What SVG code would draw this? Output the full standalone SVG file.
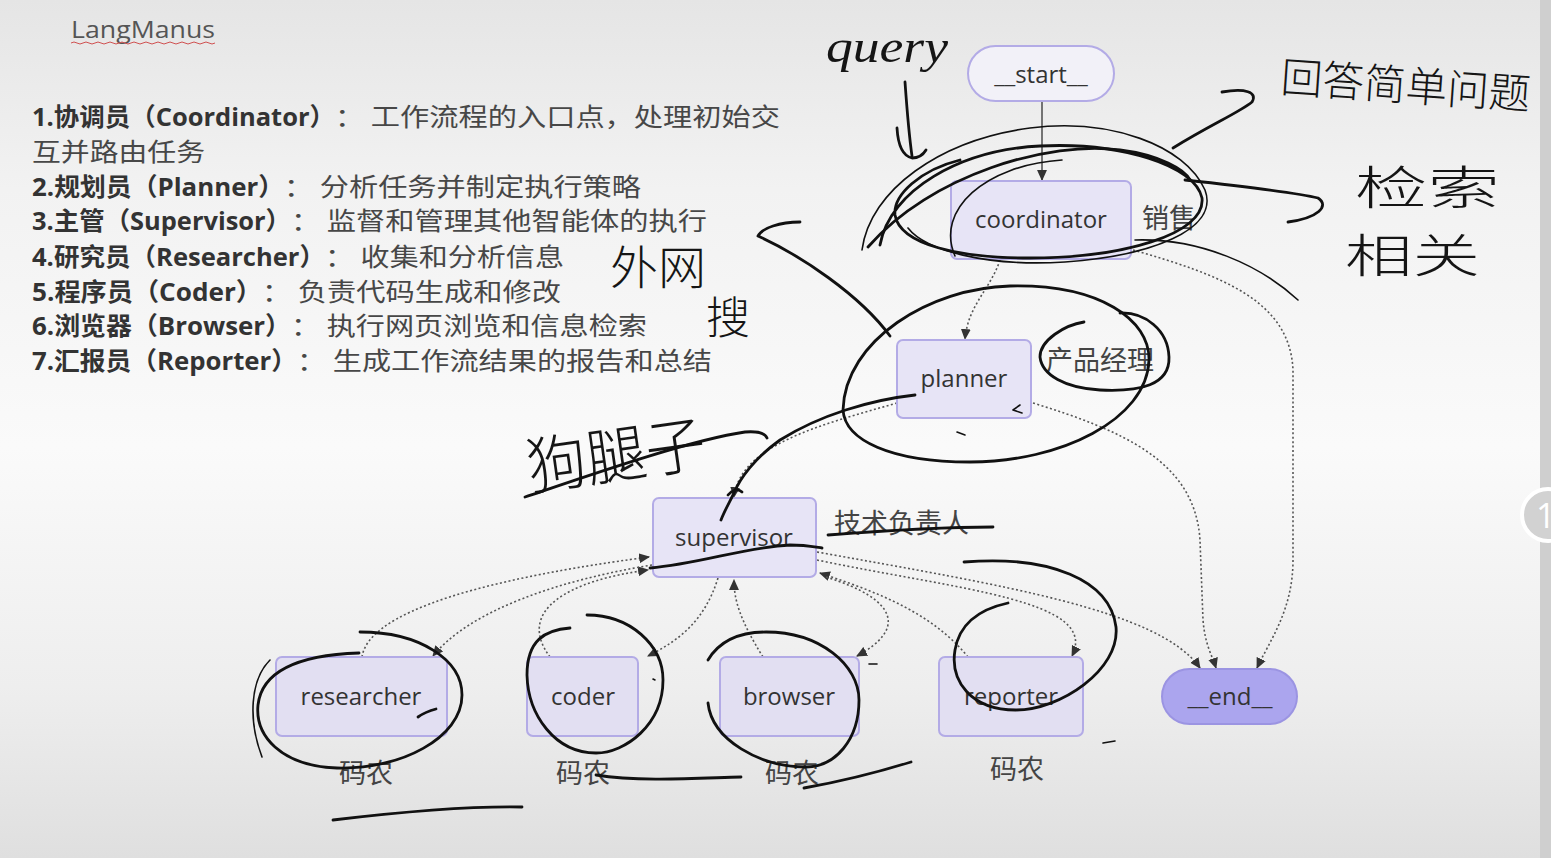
<svg xmlns="http://www.w3.org/2000/svg" width="1551" height="858" viewBox="0 0 1551 858">
<defs>
<linearGradient id="bg" x1="0" y1="0" x2="0" y2="1">
<stop offset="0" stop-color="#e5e5e5"/>
<stop offset="0.22" stop-color="#f2f2f2"/>
<stop offset="0.52" stop-color="#fafafa"/>
<stop offset="0.8" stop-color="#eeeeee"/>
<stop offset="1" stop-color="#dfdfdf"/>
</linearGradient>
<marker id="ah" viewBox="0 0 10 10" refX="9" refY="5" markerWidth="11" markerHeight="11" markerUnits="userSpaceOnUse" orient="auto">
<path d="M0,0.5 L10,5 L0,9.5 z" fill="#333"/>
</marker>
<style>
.list{font-family:"Open Sans","Noto Sans CJK SC",sans-serif;font-size:25px;}
.b{font-weight:700;fill:#333;}
.r{font-weight:400;fill:#474747;font-family:"Noto Sans CJK SC",sans-serif;}
.node{stroke:#b3abe6;stroke-width:2;fill:#e7e4f6;}
.low{fill:#e2dff2;}
.lbl{font-family:"Open Sans","Noto Sans CJK SC",sans-serif;font-size:24px;fill:#333;text-anchor:middle;}
.cn{font-family:"Noto Sans CJK SC",sans-serif;font-size:27px;fill:#444;}
.e{fill:none;stroke:#555;stroke-width:1.6;stroke-dasharray:2 2.4;marker-end:url(#ah);}
.pen{fill:none;stroke:#111;stroke-width:2.8;stroke-linecap:round;stroke-linejoin:round;}
.thin{stroke-width:1.6;}
.hw{font-family:"Noto Sans CJK SC",sans-serif;fill:#151515;font-weight:300;}
</style>
</defs>
<rect width="1551" height="858" fill="url(#bg)"/>
<rect x="1540" y="0" width="11" height="858" fill="#cfcfcf"/>
<circle cx="1548" cy="515" r="26" fill="#d2d2d2" stroke="#ffffff" stroke-width="4"/>
<text x="1536" y="528" font-family="Open Sans, sans-serif" font-size="34" fill="#ffffff">1</text>

<g id="title">
<text x="71" y="38" font-family="Open Sans, sans-serif" font-size="23" fill="#555" textLength="144" lengthAdjust="spacingAndGlyphs">LangManus</text>
<path d="M71,43 q3,-2 6,0 t6,0 t6,0 t6,0 t6,0 t6,0 t6,0 t6,0 t6,0 t6,0 t6,0 t6,0 t6,0 t6,0 t6,0 t6,0 t6,0 t6,0 t6,0 t6,0 t6,0 t6,0 t6,0 t6,0" fill="none" stroke="#d05050" stroke-width="1"/>
</g>

<g id="list" class="list">
<text x="32" y="126" class="b" textLength="303" lengthAdjust="spacingAndGlyphs">1.协调员（Coordinator）</text>
<text x="335" y="126" class="r" textLength="445" lengthAdjust="spacingAndGlyphs">： 工作流程的入口点，处理初始交</text>
<text x="32" y="161" class="r" textLength="173" lengthAdjust="spacingAndGlyphs">互并路由任务</text>
<text x="32" y="196" class="b" textLength="252" lengthAdjust="spacingAndGlyphs">2.规划员（Planner）</text>
<text x="284" y="196" class="r" textLength="357" lengthAdjust="spacingAndGlyphs">： 分析任务并制定执行策略</text>
<text x="32" y="230" class="b" textLength="259" lengthAdjust="spacingAndGlyphs">3.主管（Supervisor）</text>
<text x="291" y="230" class="r" textLength="416" lengthAdjust="spacingAndGlyphs">： 监督和管理其他智能体的执行</text>
<text x="32" y="266" class="b" textLength="293" lengthAdjust="spacingAndGlyphs">4.研究员（Researcher）</text>
<text x="325" y="266" class="r" textLength="239" lengthAdjust="spacingAndGlyphs">： 收集和分析信息</text>
<text x="32" y="301" class="b" textLength="230" lengthAdjust="spacingAndGlyphs">5.程序员（Coder）</text>
<text x="262" y="301" class="r" textLength="299" lengthAdjust="spacingAndGlyphs">： 负责代码生成和修改</text>
<text x="32" y="335" class="b" textLength="259" lengthAdjust="spacingAndGlyphs">6.浏览器（Browser）</text>
<text x="291" y="335" class="r" textLength="356" lengthAdjust="spacingAndGlyphs">： 执行网页浏览和信息检索</text>
<text x="32" y="370" class="b" textLength="265" lengthAdjust="spacingAndGlyphs">7.汇报员（Reporter）</text>
<text x="297" y="370" class="r" textLength="415" lengthAdjust="spacingAndGlyphs">： 生成工作流结果的报告和总结</text>
</g>

<g id="connectors">
<path d="M1042,102 L1042,180" fill="none" stroke="#555" stroke-width="1.6" marker-end="url(#ah)"/>
<path class="e" d="M1000,260 C990,290 968,305 965,339"/>
<path class="e" d="M1133,250 C1220,275 1290,300 1293,370 L1293,560 C1293,610 1270,640 1257,668"/>
<path class="e" d="M897,403 C820,425 740,445 734,497"/>
<path class="e" d="M1033,403 C1120,430 1195,460 1200,540 L1203,620 C1205,645 1212,655 1216,668"/>
<path class="e" d="M817,552 C1000,585 1160,610 1200,668"/>
<path class="e" d="M817,560 C960,590 1100,600 1072,656"/>
<path class="e" d="M968,657 C930,610 870,590 820,573"/>
<path class="e" d="M826,577 C900,600 905,630 857,656"/>
<path class="e" d="M763,657 C740,620 734,600 734,580"/>
<path class="e" d="M718,578 C705,620 680,640 648,656"/>
<path class="e" d="M550,657 C515,610 570,580 648,570"/>
<path class="e" d="M362,657 C370,600 550,570 649,557"/>
<path class="e" d="M652,565 C560,580 470,610 433,656"/>
</g>

<g id="start">
<rect x="968" y="46" width="146" height="55" rx="27.5" fill="#f2f1f8" stroke="#b3abe6" stroke-width="2"/>
<text x="1041" y="83" class="lbl">__start__</text>
</g>
<g id="coordinator">
<rect x="951" y="181" width="180" height="78" rx="6" class="node"/>
<text x="1041" y="228" class="lbl">coordinator</text>
<text x="1142" y="228" class="cn">销售</text>
</g>
<g id="planner">
<rect x="897" y="340" width="134" height="78" rx="6" class="node"/>
<text x="964" y="387" class="lbl">planner</text>
<text x="1046" y="370" class="cn">产品经理</text>
</g>
<g id="supervisor">
<rect x="653" y="498" width="163" height="79" rx="6" class="node"/>
<text x="734" y="546" class="lbl">supervisor</text>
<text x="834" y="533" class="cn">技术负责人</text>
</g>
<g id="researcher">
<rect x="276" y="657" width="171" height="79" rx="6" class="node low"/>
<text x="361" y="705" class="lbl">researcher</text>
<text x="339" y="783" class="cn">码农</text>
</g>
<g id="coder">
<rect x="527" y="657" width="111" height="79" rx="6" class="node low"/>
<text x="583" y="705" class="lbl">coder</text>
<text x="556" y="783" class="cn">码农</text>
</g>
<g id="browser">
<rect x="720" y="657" width="139" height="79" rx="6" class="node low"/>
<text x="789" y="705" class="lbl">browser</text>
<text x="765" y="783" class="cn">码农</text>
</g>
<g id="reporter">
<rect x="939" y="657" width="144" height="79" rx="6" class="node low"/>
<text x="1011" y="705" class="lbl">reporter</text>
<text x="990" y="779" class="cn">码农</text>
</g>
<g id="end">
<rect x="1162" y="669" width="135" height="55" rx="27.5" fill="#aba5ee" stroke="#9b94e2" stroke-width="2"/>
<text x="1230" y="705" class="lbl">__end__</text>
</g>

<g id="annotations">
<text x="826" y="62" font-family="Liberation Serif, serif" font-style="italic" font-size="46" fill="#151515" textLength="122" lengthAdjust="spacingAndGlyphs">query</text>
<text x="1280" y="92" class="hw" font-size="42" textLength="250" lengthAdjust="spacingAndGlyphs" transform="rotate(4 1280 92)">回答简单问题</text>
<text x="1355" y="204" class="hw" font-size="46" textLength="145" lengthAdjust="spacingAndGlyphs">检索</text>
<text x="1345" y="272" class="hw" font-size="46" textLength="135" lengthAdjust="spacingAndGlyphs">相关</text>
<text x="610" y="284" class="hw" font-size="46" textLength="96" lengthAdjust="spacingAndGlyphs">外网</text>
<text x="706" y="334" class="hw" font-size="44">搜</text>
<text x="530" y="490" class="hw" font-size="62" textLength="180" lengthAdjust="spacingAndGlyphs" transform="rotate(-8 530 490)">狗腿子</text>

<path class="pen" d="M905,82 C907,110 909,135 912,156"/>
<path class="pen" d="M897,128 C898,145 903,156 912,158 C918,158 923,155 926,150"/>
<path class="pen thin" d="M862,250 C870,190 940,140 1030,128 C1110,118 1185,145 1205,190 C1220,230 1150,256 1065,262 C985,267 925,250 908,228"/>
<path class="pen" d="M880,245 C890,190 960,150 1040,146 C1120,142 1195,165 1202,198 C1206,235 1120,258 1030,258 C960,258 900,245 895,215 C893,195 920,170 960,160"/>
<path class="pen" d="M868,247 C930,175 1050,140 1120,150 C1160,155 1185,170 1190,180"/>
<path class="pen" d="M1173,148 C1210,125 1240,112 1252,102 C1258,92 1245,88 1222,92"/>
<path class="pen" d="M1185,180 C1240,186 1295,192 1318,198 C1330,206 1318,218 1288,222"/>
<path class="pen thin" d="M1135,240 C1200,238 1260,265 1298,300"/>
<path class="pen thin" d="M955,256 C935,210 985,165 1062,160"/>
<path class="pen" d="M800,222 C780,222 762,228 758,236 C800,255 860,295 890,336"/>
<path class="pen" d="M843,410 C845,340 930,288 1010,286 C1100,284 1150,320 1149,360 C1147,420 1060,462 970,462 C890,462 845,440 843,410"/>
<path class="pen" d="M1120,313 C1145,312 1168,330 1169,357 C1170,385 1140,392 1100,390 C1065,388 1042,375 1040,357 C1040,340 1065,325 1084,322"/>
<path class="pen" d="M915,395 C870,400 820,415 780,440 C755,458 740,478 734,493 C728,505 724,512 721,520"/>
<path class="pen" d="M728,495 C732,490 738,488 742,492"/>
<path class="pen" d="M525,497 C590,475 690,440 745,432 C758,431 765,433 767,438"/>
<path class="pen" d="M650,568 C700,564 745,547 790,545 C805,545 815,547 822,548"/>
<path class="pen" d="M828,535 C880,531 950,527 993,527"/>
<path class="pen" d="M964,562 C1050,555 1110,580 1116,627 C1120,670 1060,710 1016,710 C970,710 950,680 955,650 C960,620 985,608 1008,603"/>
<path class="pen" d="M360,632 C420,632 462,660 462,695 C462,738 400,770 337,768 C280,766 255,735 258,705 C262,670 300,655 359,653"/>
<path class="pen thin" d="M270,660 C250,680 248,720 262,757"/>
<path class="pen" d="M587,615 C630,615 663,645 663,680 C663,725 625,753 596,753 C555,753 528,715 527,675 C527,640 545,630 570,628"/>
<path class="pen" d="M708,660 C720,640 740,632 766,632 C820,632 859,665 859,700 C859,740 835,767 806,767 C760,767 712,740 708,703"/>
<path class="pen" d="M596,775 C640,782 700,778 741,777"/>
<path class="pen" d="M804,788 C850,780 885,770 911,762"/>
<path class="pen" d="M333,820 C400,812 470,806 522,807"/>
<path class="pen" d="M418,717 C425,712 432,710 436,709"/>
<path class="pen thin" d="M1020,405 L1013,410 L1022,413"/>
<path class="pen thin" d="M957,432 l8,3"/>
<path class="pen thin" d="M869,664 l8,0"/>
<path class="pen thin" d="M1103,743 l12,-2"/>
<path class="pen thin" d="M653,679 l2,1"/>
</g>
</svg>
